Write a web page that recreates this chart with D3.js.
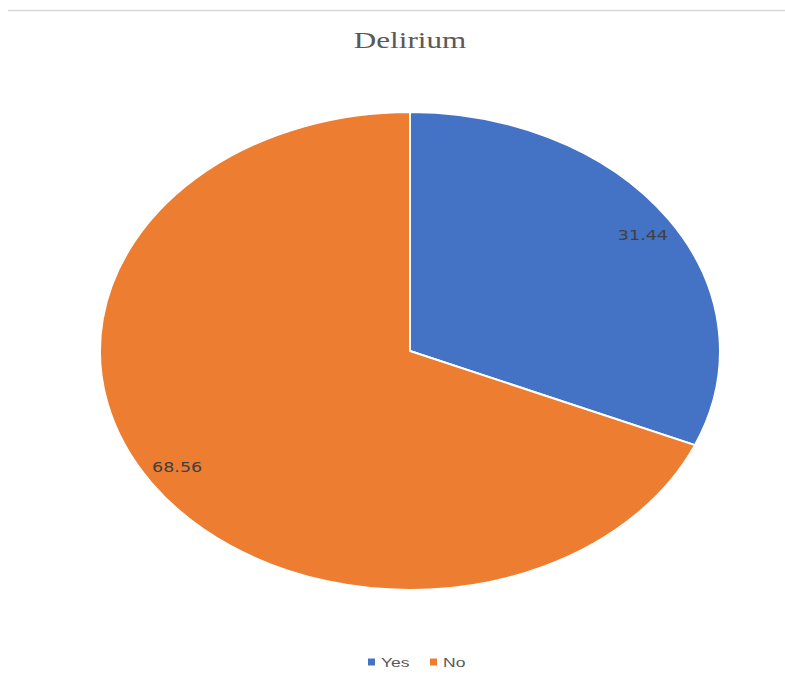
<!DOCTYPE html>
<html>
<head>
<meta charset="utf-8">
<script src="https://cdn.jsdelivr.net/npm/d3@7"></script>
<style>
  body { margin: 0; background: #fff; }
</style>
</head>
<body>
<svg id="svg_1" width="785" height="681"></svg>
<script>
var categories = ["Yes", "No"];
var values = [31.44, 68.56];
var labels = ["31.44", "68.56"];

var svg = d3.select("svg#svg_1"),
    cx = 410, cy = 351,
    rx = 310, ry = 239,
    stretch = rx / ry;   // whole chart is stretched sideways

var color = d3.scaleOrdinal()
    .domain(categories)
    .range(["#4472c4", "#ed7d31"]);

// thin rule at the top
svg.append("line")
    .attr("x1", 8).attr("x2", 785)
    .attr("y1", 10.5).attr("y2", 10.5)
    .attr("stroke", "#d9d9d9")
    .attr("stroke-width", 1.5);

svg.append("text")
    .attr("transform", "translate(" + cx + ",48) scale(" + stretch + ",1)")
    .attr("text-anchor", "middle")
    .attr("font-family", "Liberation Serif, Times New Roman, serif")
    .attr("font-size", 24)
    .attr("fill", "#595959")
    .text("Delirium");

var pie = d3.pie().sort(null).value(function(d) { return d.value; });
var data = categories.map(function(c, i) { return {key: c, value: values[i], label: labels[i]}; });
var arcs = pie(data);

// pie drawn on unit radius, stretched to an ellipse
var arc = d3.arc().innerRadius(0).outerRadius(1);

var g = svg.append("g")
    .attr("transform", "translate(" + cx + "," + cy + ") scale(" + rx + "," + ry + ")");

g.selectAll("path")
    .data(arcs)
    .enter().append("path")
      .attr("d", arc)
      .attr("fill", function(d) { return color(d.data.key); })
      .attr("stroke", "#fff")
      .attr("stroke-width", 2)
      .attr("vector-effect", "non-scaling-stroke");

var labelRx = 0.9, labelRy = 0.88;
svg.append("g")
    .selectAll("text")
    .data(arcs)
    .enter().append("text")
      .attr("transform", function(d) {
        var a = (d.startAngle + d.endAngle) / 2;
        var x = cx + Math.sin(a) * rx * labelRx,
            y = cy - Math.cos(a) * ry * labelRy;
        return "translate(" + x + "," + y + ") scale(" + stretch + ",1)";
      })
      .attr("dy", "0.35em")
      .attr("text-anchor", "middle")
      .attr("font-family", "DejaVu Sans, sans-serif")
      .attr("font-size", 13.5)
      .attr("fill", "#404040")
      .text(function(d) { return d.data.label; });

var legend = svg.append("g")
    .attr("font-family", "Liberation Sans, Arial, sans-serif")
    .attr("font-size", 13.5)
    .attr("fill", "#595959")
  .selectAll("g")
  .data(categories)
  .enter().append("g")
    .attr("transform", function(d, i) { return "translate(" + (368 + i * 62) + ",662)"; });

legend.append("rect")
    .attr("x", 0)
    .attr("y", -3.5)
    .attr("width", 7)
    .attr("height", 7)
    .attr("fill", function(d) { return color(d); });

legend.append("text")
    .attr("transform", "translate(13,0) scale(" + stretch + ",1)")
    .attr("dy", "0.35em")
    .text(function(d) { return d; });
</script>
</body>
</html>
